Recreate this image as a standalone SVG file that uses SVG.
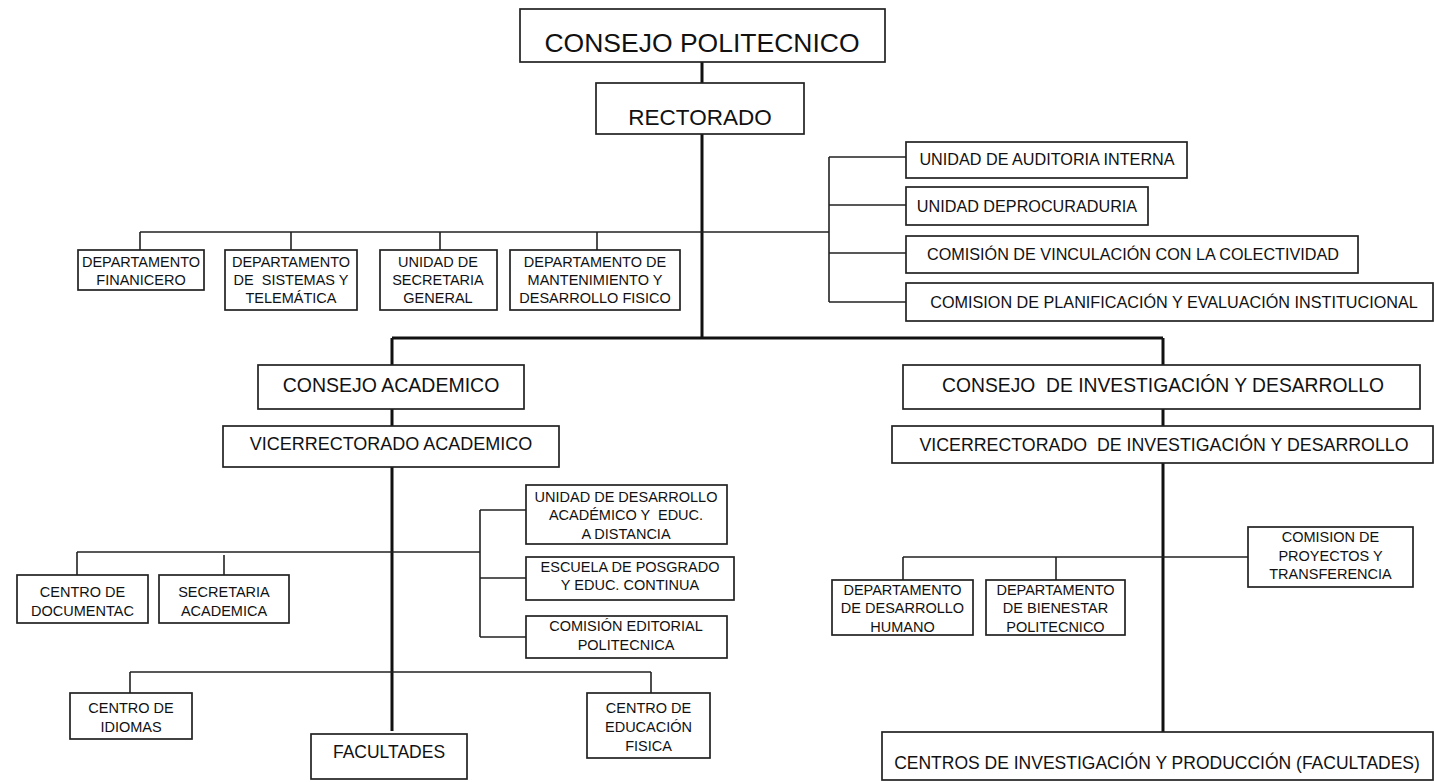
<svg xmlns="http://www.w3.org/2000/svg" width="1434" height="782" viewBox="0 0 1434 782">
<style>
.b{fill:#fff;stroke:#222;stroke-width:1.7}
.t{font-family:"Liberation Sans",Arial,sans-serif;fill:#111;text-anchor:middle}
.s{font-size:14.5px}
.m{font-size:16.2px}
.thick{stroke:#111;stroke-width:3;fill:none}
.thin{stroke:#222;stroke-width:1.6;fill:none}
</style>
<rect width="1434" height="782" fill="#fff"/>
<g id="connectors">
<path class="thick" d="M702 62V83M702 134V338M392 338H1163M392 338V365M1163 338V365M392 409V426M1163 409V426M392 467V731M1163 463V732"/>
<path class="thin" d="M140 232H829M140 232V250M291 232V250M440 232V250M597 232V250M829 157V302M829 157H906M829 205H906M829 253H906M829 302H906"/>
<path class="thin" d="M77 552H480M77 552V575M224 555V575M480 510V637M480 510H526M480 578H526M480 637H526"/>
<path class="thin" d="M130 672H651M130 672V693M651 672V693"/>
<path class="thin" d="M903 557H1248M903 557V580M1056 557V580"/>
</g>
<g id="consejo-politecnico"><rect class="b" x="520" y="9" width="365" height="53"/><text class="t" x="702" y="52" font-size="26.5">CONSEJO POLITECNICO</text></g>
<g id="rectorado"><rect class="b" x="596" y="83" width="208" height="51"/><text class="t" x="700" y="125" font-size="22.5">RECTORADO</text></g>
<g id="dep-financiero"><rect class="b" x="78" y="250" width="126" height="40"/><text class="t s" x="141" y="267">DEPARTAMENTO</text><text class="t s" x="141" y="285">FINANICERO</text></g>
<g id="dep-sistemas"><rect class="b" x="225" y="250" width="132" height="60"/><text class="t s" x="291" y="267">DEPARTAMENTO</text><text class="t s" x="291" y="285" xml:space="preserve">DE  SISTEMAS Y</text><text class="t s" x="291" y="303">TELEMÁTICA</text></g>
<g id="unidad-secretaria"><rect class="b" x="380" y="250" width="117" height="60"/><text class="t s" x="438" y="267">UNIDAD DE</text><text class="t s" x="438" y="285">SECRETARIA</text><text class="t s" x="438" y="303">GENERAL</text></g>
<g id="dep-mantenimiento"><rect class="b" x="510" y="250" width="170" height="60"/><text class="t s" x="595" y="267">DEPARTAMENTO DE</text><text class="t s" x="595" y="285">MANTENIMIENTO Y</text><text class="t s" x="595" y="303">DESARROLLO FISICO</text></g>
<g id="auditoria"><rect class="b" x="906" y="142" width="281" height="36"/><text class="t m" x="1047" y="165">UNIDAD DE AUDITORIA INTERNA</text></g>
<g id="procuraduria"><rect class="b" x="906" y="187" width="242" height="38"/><text class="t m" x="1027" y="212">UNIDAD DEPROCURADURIA</text></g>
<g id="vinculacion"><rect class="b" x="906" y="236" width="452" height="37"/><text class="t m" x="1133" y="260">COMISIÓN DE VINCULACIÓN CON LA COLECTIVIDAD</text></g>
<g id="planificacion"><rect class="b" x="906" y="283" width="527" height="38"/><text class="t m" x="1174" y="308">COMISION DE PLANIFICACIÓN Y EVALUACIÓN INSTITUCIONAL</text></g>
<g id="consejo-academico"><rect class="b" x="258" y="365" width="266" height="44"/><text class="t" x="391" y="392" font-size="19.5">CONSEJO ACADEMICO</text></g>
<g id="vicerrectorado-academico"><rect class="b" x="223" y="426" width="336" height="41"/><text class="t" x="391" y="450" font-size="18">VICERRECTORADO ACADEMICO</text></g>
<g id="consejo-investigacion"><rect class="b" x="903" y="365" width="517" height="44"/><text class="t" x="1163" y="392" font-size="19.3" xml:space="preserve">CONSEJO  DE INVESTIGACIÓN Y DESARROLLO</text></g>
<g id="vicerrectorado-investigacion"><rect class="b" x="892" y="426" width="541" height="37"/><text class="t" x="1164" y="450.5" font-size="17.8" xml:space="preserve">VICERRECTORADO  DE INVESTIGACIÓN Y DESARROLLO</text></g>
<g id="centro-documentac"><rect class="b" x="17" y="575" width="131" height="48"/><text class="t s" x="82.5" y="597">CENTRO DE</text><text class="t s" x="82.5" y="616">DOCUMENTAC</text></g>
<g id="secretaria-academica"><rect class="b" x="159" y="575" width="130" height="48"/><text class="t s" x="224" y="597">SECRETARIA</text><text class="t s" x="224" y="616">ACADEMICA</text></g>
<g id="unidad-desarrollo-academico"><rect class="b" x="526" y="485" width="201" height="59"/><text class="t s" x="626" y="502">UNIDAD DE DESARROLLO</text><text class="t s" x="626" y="520" xml:space="preserve">ACADÉMICO Y  EDUC.</text><text class="t s" x="626" y="539">A DISTANCIA</text></g>
<g id="escuela-posgrado"><rect class="b" x="526" y="557" width="208" height="43"/><text class="t s" x="630" y="572">ESCUELA DE POSGRADO</text><text class="t s" x="630" y="590">Y EDUC. CONTINUA</text></g>
<g id="comision-editorial"><rect class="b" x="526" y="616" width="201" height="42"/><text class="t s" x="626" y="631">COMISIÓN EDITORIAL</text><text class="t s" x="626" y="650">POLITECNICA</text></g>
<g id="centro-idiomas"><rect class="b" x="70" y="693" width="122" height="46"/><text class="t s" x="131" y="713">CENTRO DE</text><text class="t s" x="131" y="732">IDIOMAS</text></g>
<g id="facultades"><rect class="b" x="311" y="734" width="156" height="45"/><text class="t" x="389" y="758" font-size="17.5">FACULTADES</text></g>
<g id="centro-educacion-fisica"><rect class="b" x="587" y="693" width="123" height="65"/><text class="t s" x="648.5" y="713">CENTRO DE</text><text class="t s" x="648.5" y="732">EDUCACIÓN</text><text class="t s" x="648.5" y="751">FISICA</text></g>
<g id="dep-desarrollo-humano"><rect class="b" x="832" y="580" width="141" height="55"/><text class="t s" x="902.5" y="595">DEPARTAMENTO</text><text class="t s" x="902.5" y="613">DE DESARROLLO</text><text class="t s" x="902.5" y="632">HUMANO</text></g>
<g id="dep-bienestar"><rect class="b" x="986" y="580" width="139" height="55"/><text class="t s" x="1055.5" y="595">DEPARTAMENTO</text><text class="t s" x="1055.5" y="613">DE BIENESTAR</text><text class="t s" x="1055.5" y="632">POLITECNICO</text></g>
<g id="comision-proyectos"><rect class="b" x="1248" y="527" width="165" height="60"/><text class="t s" x="1330.5" y="542">COMISION DE</text><text class="t s" x="1330.5" y="561">PROYECTOS Y</text><text class="t s" x="1330.5" y="579">TRANSFERENCIA</text></g>
<g id="centros-investigacion"><rect class="b" x="882" y="732" width="551" height="48"/><text class="t" x="1157" y="769" font-size="17.5">CENTROS DE INVESTIGACIÓN Y PRODUCCIÓN (FACULTADES)</text></g>
</svg>
